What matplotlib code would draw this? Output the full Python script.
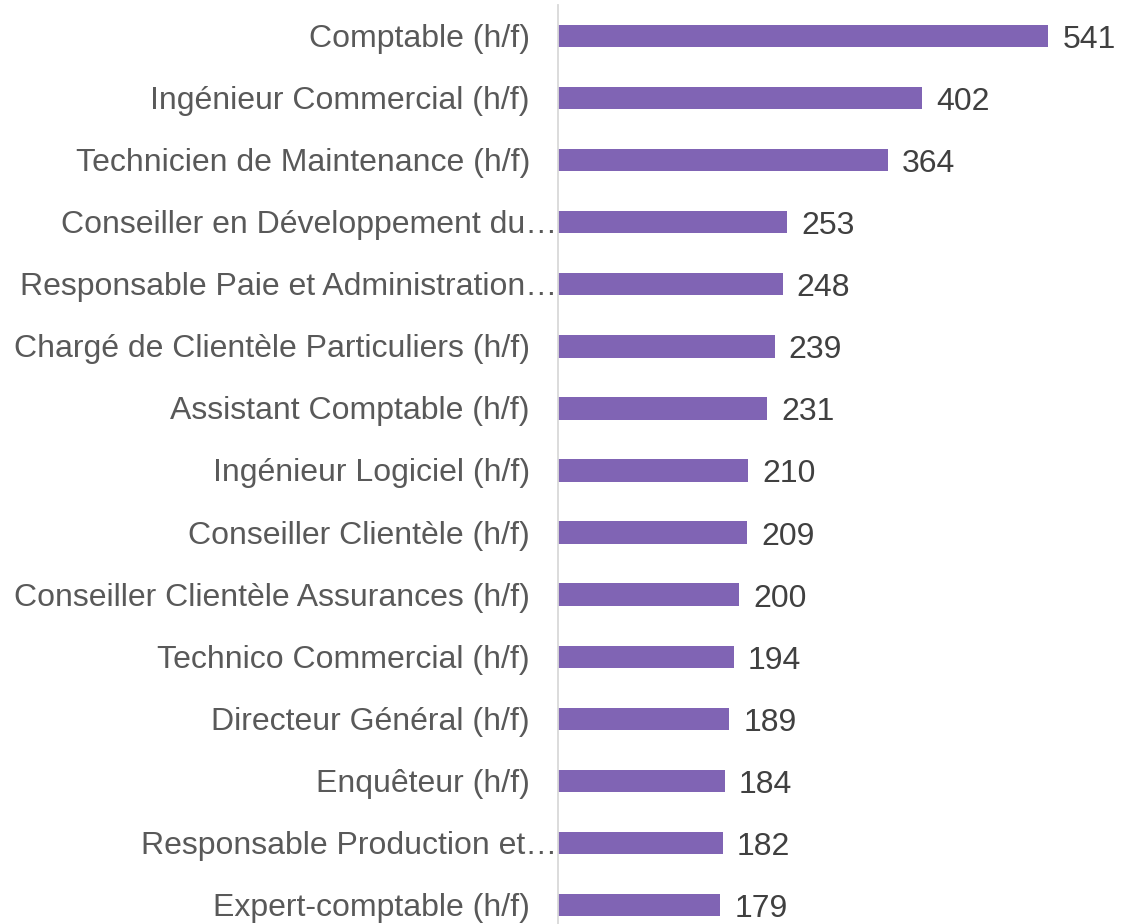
import matplotlib.pyplot as plt

plt.rcParams['font.family'] = ['Liberation Sans', 'DejaVu Sans']

# données (haut -> bas)
metiers = [
    "Comptable (h/f)",
    "Ingénieur Commercial (h/f)",
    "Technicien de Maintenance (h/f)",
    "Conseiller en Développement du…",
    "Responsable Paie et Administration…",
    "Chargé de Clientèle Particuliers (h/f)",
    "Assistant Comptable (h/f)",
    "Ingénieur Logiciel (h/f)",
    "Conseiller Clientèle (h/f)",
    "Conseiller Clientèle Assurances (h/f)",
    "Technico Commercial (h/f)",
    "Directeur Général (h/f)",
    "Enquêteur (h/f)",
    "Responsable Production et…",
    "Expert-comptable (h/f)",
]
offres = [541, 402, 364, 253, 248, 239, 231, 210, 209, 200, 194, 189, 184, 182, 179]

couleur_barre = '#8064B4'
taille = 23

fig = plt.figure(figsize=(11.21, 9.24), dpi=100)
ax = fig.add_axes([558 / 1121, -12 / 924, (1121 - 558) / 1121, 931 / 924])

pos = list(range(len(metiers)))
ax.barh(pos, offres, height=0.36, color=couleur_barre)
ax.set_ylim(len(metiers) - 0.5, -0.5)
ax.set_xlim(0, 621)

# valeurs à droite des barres
for y, v in zip(pos, offres):
    ax.annotate(str(v), (v, y), xytext=(14, -4), textcoords='offset pixels',
                ha='left', va='center', fontsize=taille, color='#404040',
                annotation_clip=False)

# libellés à gauche (ceux tronqués collent à l'axe)
for y, lab in zip(pos, metiers):
    dx = -1 if lab.endswith('…') else -28
    ax.annotate(lab, (0, y), xytext=(dx, -3), textcoords='offset pixels',
                ha='right', va='center', fontsize=taille, color='#595959',
                annotation_clip=False)

ax.set_xticks([])
ax.set_yticks([])
for s in ['top', 'right', 'bottom']:
    ax.spines[s].set_visible(False)
ax.spines['left'].set_color('#D9D9D9')
ax.spines['left'].set_linewidth(1.3)

fig.savefig('out.png', dpi=100)
